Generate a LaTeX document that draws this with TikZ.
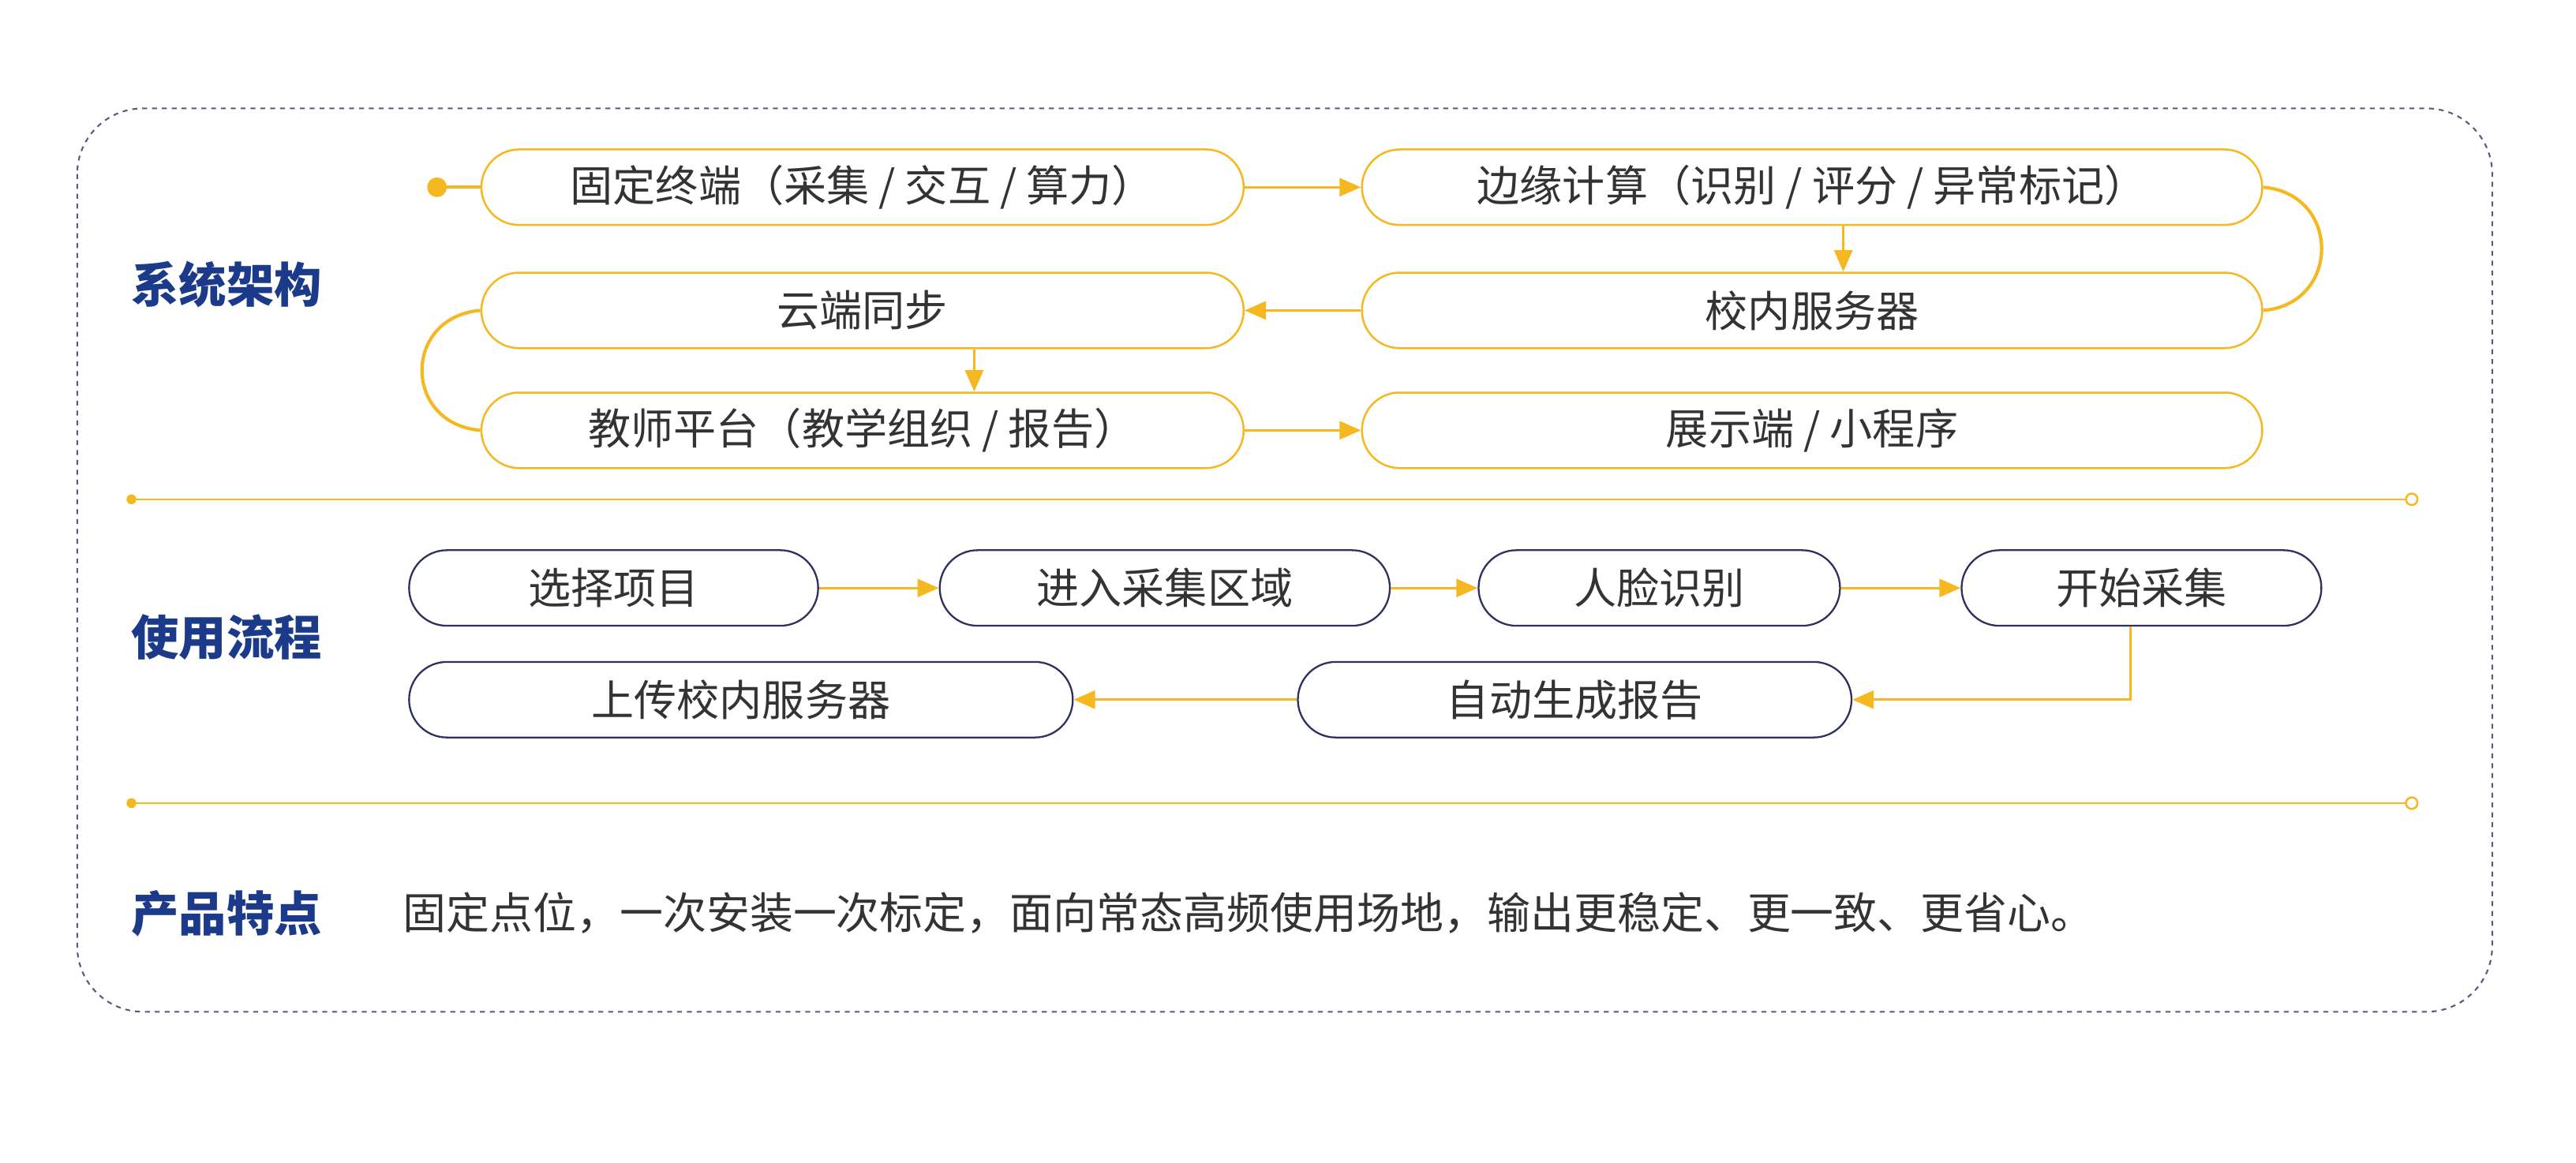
\documentclass[tikz,border=0pt]{standalone}
\usepackage{fontspec}
\setmainfont{Noto Sans CJK SC}
\usetikzlibrary{arrows.meta}
\definecolor{ylw}{HTML}{F5B820}
\definecolor{navy}{HTML}{1B3A8A}
\definecolor{bord}{HTML}{2E3060}
\definecolor{txt}{HTML}{333333}
\begin{document}
\begin{tikzpicture}[x=1pt,y=-1pt,
  ybox/.style={draw=ylw,line width=1.2pt,rounded corners=23pt,minimum height=46pt,inner sep=0pt,font=\fontsize{26}{28}\selectfont,text=txt},
  nbox/.style={draw=bord,line width=1.1pt,rounded corners=23pt,minimum height=46pt,inner sep=0pt,font=\fontsize{26}{28}\selectfont,text=txt},
  arr/.style={draw=ylw,line width=1.5pt,-{Triangle[length=13pt,width=11pt]}},
  yl/.style={draw=ylw,line width=2pt},
  ttl/.style={font=\fontsize{29}{31}\selectfont\bfseries,text=navy}]
\useasboundingbox (0,0) rectangle (1568,708);
\draw[draw=bord!80,line width=1pt,dashed,rounded corners=40pt] (47,66) rectangle (1517,616);
% arch
\node[ybox,minimum width=464pt] (A) at (525,114) {固定终端（采集 / 交互 / 算力）};
\node[ybox,minimum width=548pt] (B) at (1103,114) {边缘计算（识别 / 评分 / 异常标记）};
\node[ybox,minimum width=464pt] (C) at (525,189) {云端同步};
\node[ybox,minimum width=548pt] (D) at (1103,189) {校内服务器};
\node[ybox,minimum width=464pt] (E) at (525,262) {教师平台（教学组织 / 报告）};
\node[ybox,minimum width=548pt] (F) at (1103,262) {展示端 / 小程序};
\coordinate (st) at (266,114);
\fill[ylw] (st) circle (6pt);
\draw[yl] (st) -- (A.west);
\draw[arr] (A.east) -- (B.west);
\draw[arr] (B.south -| 1122,0) -- (D.north -| 1122,0);
\draw[yl] (B.east) .. controls (1425,118) and (1425,185) .. (D.east);
\draw[arr] (D.west) -- (C.east);
\draw[yl] (C.west) .. controls (245,193) and (245,258) .. (E.west);
\draw[arr] (C.south -| 593,0) -- (E.north -| 593,0);
\draw[arr] (E.east) -- (F.west);
\node[ttl] (t1) at (138,173) {系统架构};
% separators
\coordinate (s1l) at (80,304); \coordinate (s1r) at (1468,304);
\draw[draw=ylw,line width=1.2pt] (s1l) -- ([xshift=-3.5pt]s1r);
\fill[ylw] (s1l) circle (3pt);
\draw[ylw,line width=1.2pt,fill=white] (s1r) circle (3.5pt);
\coordinate (s2l) at (80,489); \coordinate (s2r) at (1468,489);
\draw[draw=ylw,line width=1.2pt] (s2l) -- ([xshift=-3.5pt]s2r);
\fill[ylw] (s2l) circle (3pt);
\draw[ylw,line width=1.2pt,fill=white] (s2r) circle (3.5pt);
% flow
\node[nbox,minimum width=249pt] (P1) at (373.5,358) {选择项目};
\node[nbox,minimum width=274pt] (P2) at (709,358) {进入采集区域};
\node[nbox,minimum width=220pt] (P3) at (1010,358) {人脸识别};
\node[nbox,minimum width=219pt] (P4) at (1303.5,358) {开始采集};
\node[nbox,minimum width=337pt] (P5) at (958.5,426) {自动生成报告};
\node[nbox,minimum width=404pt] (P6) at (451,426) {上传校内服务器};
\draw[arr] (P1.east) -- (P2.west);
\draw[arr] (P2.east) -- (P3.west);
\draw[arr] (P3.east) -- (P4.west);
\draw[arr] (P4.south -| 1297,0) |- (P5.east);
\draw[arr] (P5.west) -- (P6.east);
\node[ttl] (t2) at (138,388) {使用流程};
\node[ttl] (t3) at (138,556) {产品特点};
\node[anchor=west,inner sep=0pt,font=\fontsize{26.4}{28}\selectfont,text=txt] (feat) at (245,556) {固定点位，一次安装一次标定，面向常态高频使用场地，输出更稳定、更一致、更省心。};
\end{tikzpicture}
\end{document}
